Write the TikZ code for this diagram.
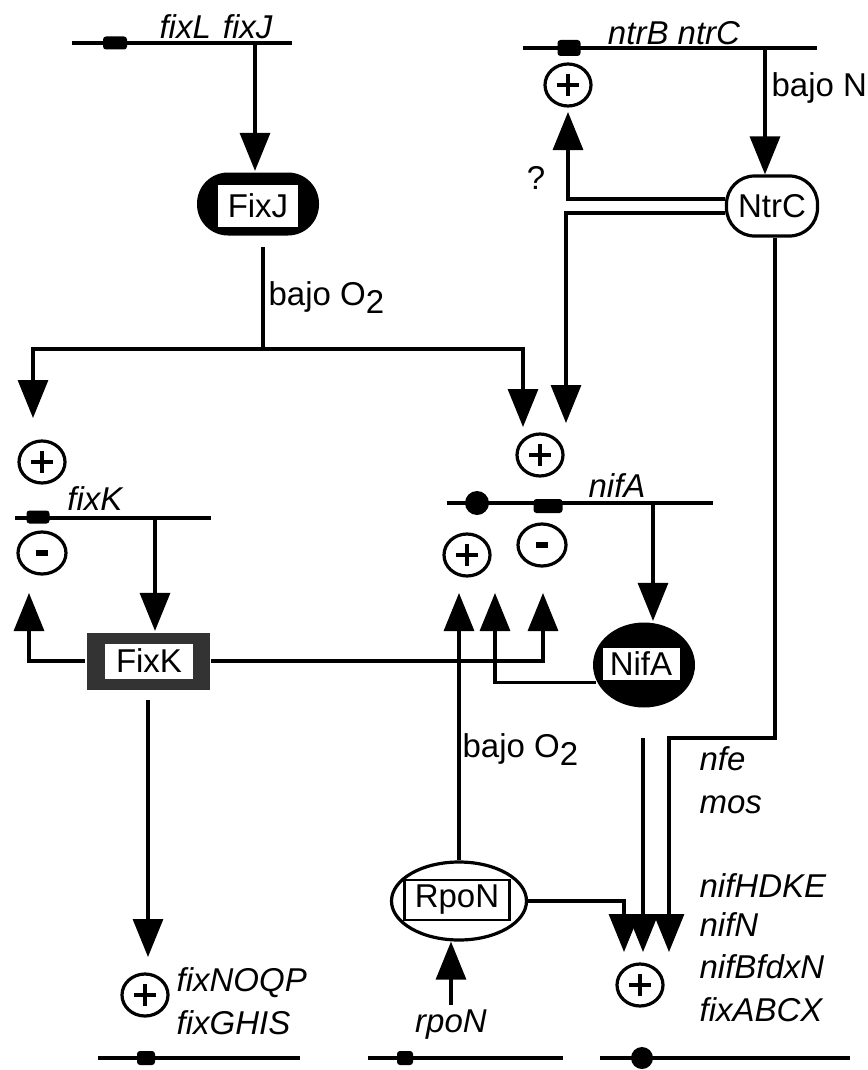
\documentclass[tikz,border=0pt]{standalone}
\usepackage{fontspec}
\setmainfont{Liberation Sans}
\usetikzlibrary{arrows.meta,shapes.geometric,calc}
\begin{document}
\begin{tikzpicture}[x=1pt,y=-1pt,line width=3.2pt,
  arr/.style={-{Triangle[length=38pt,width=30pt]}},
  txt/.style={font=\fontsize{33}{40}\selectfont, inner sep=0pt},
  gtxt/.style={font=\fontsize{33}{40}\selectfont\itshape, inner sep=0pt},
  prom/.style={fill=black, rounded corners=3pt, inner sep=0pt, minimum width=24pt, minimum height=13pt},
  blob/.style={circle, fill=black, inner sep=0pt, minimum size=24pt},
  pl/.style={ellipse, draw, inner sep=0pt, minimum width=46pt, minimum height=42pt,
    path picture={
      \draw[line width=3.8pt] ([xshift=-11pt]path picture bounding box.center) -- ([xshift=11pt]path picture bounding box.center);
      \draw[line width=3.8pt] ([yshift=-11pt]path picture bounding box.center) -- ([yshift=11pt]path picture bounding box.center);}},
  mi/.style={ellipse, draw, inner sep=0pt, minimum width=48pt, minimum height=42pt,
    path picture={
      \fill ([shift={(-6pt,-3pt)}]path picture bounding box.center) rectangle ([shift={(6pt,3pt)}]path picture bounding box.center);}},
  whitebox/.style={txt, fill=white}
]
\useasboundingbox (0,0) rectangle (867,1070);

% ---------- fixL fixJ ----------
\coordinate (gA1) at (72,43); \coordinate (gA2) at (292,43);
\draw (gA1) -- (gA2);
\node[prom] (pA) at (115,43) {};
\node[gtxt, anchor=base] (tA) at (216,39) {fixL\hspace{12pt}fixJ};
\node[fill=black, rounded corners=31pt, minimum width=122pt, minimum height=63pt, inner sep=0pt] (fixj) at (258,204) {};
\node[whitebox, minimum width=80pt, minimum height=42pt] (fixjt) at (258,206) {FixJ};
\coordinate (gAo) at (255,43);
\draw[arr] (gAo) -- (gAo |- fixj.north);

\coordinate (fjS) at (263,247); \coordinate (br) at (263,349);
\draw (fjS) -- (br);
\node[txt, anchor=base west] (bO1) at (267,305) {bajo O\raisebox{-8pt}{2}};
\coordinate (tL1) at (33,418); \coordinate (tM0) at (523,427);
\draw[arr] (br) -| (tL1);
\draw[arr] (br) -| (tM0);

% ---------- ntrB ntrC ----------
\coordinate (gB1) at (523,48); \coordinate (gB2) at (817,48);
\draw (gB1) -- (gB2);
\node[prom, minimum width=23pt, minimum height=16pt] (pB) at (569,48) {};
\node[gtxt, anchor=base] (tB) at (674,45) {ntrB ntrC};
\node[txt, draw, rounded corners=28pt, minimum width=91pt, minimum height=60pt] (ntrc) at (772,206) {NtrC};
\coordinate (gBo) at (765,48);
\draw[arr] (gBo) -- (gBo |- ntrc.north);
\node[txt, anchor=base west] (bN) at (770,97) {bajo N};
\node[pl] (pN) at (568,85) {};
\coordinate (tN1) at (568,112); \coordinate (tN2) at (566,423);
\draw[arr] ([yshift=7pt]ntrc.west) -| (tN1);
\draw[arr] ([yshift=-7pt]ntrc.west) -| (tN2);
\node[txt] (q) at (536,178) {?};
\coordinate (nC1) at (775,738); \coordinate (nC2) at (669,738); \coordinate (tR3) at (669,952);
\draw[arr] (nC1 |- ntrc.south) -- (nC1) -- (nC2) -- (tR3);

% ---------- nifA ----------
\coordinate (gC1) at (447,503); \coordinate (gC2) at (713,503);
\draw (gC1) -- (gC2);
\node[blob] (dA) at (477,503) {};
\node[prom, minimum width=29pt, minimum height=14pt] (pC) at (548,506) {};
\node[gtxt, anchor=base] (tC) at (617,497) {nifA};
\node[pl] (pC1) at (540,455) {};
\node[pl] (pC2) at (467,555) {};
\node[mi] (mC) at (542,545) {};
\node[ellipse, fill=black, minimum width=102pt, minimum height=85pt, inner sep=0pt] (nifa) at (644,665) {};
\node[whitebox, minimum width=77pt, minimum height=32pt] (nifat) at (641,664) {NifA};
\coordinate (gCo) at (653,503);
\draw[arr] (gCo) -- (gCo |- nifa.north);

% ---------- FixK ----------
\node[fill=black!80, minimum width=123pt, minimum height=57pt, inner sep=0pt] (fixk) at (148,661) {};
\node[whitebox, minimum width=88pt, minimum height=35pt] (fixkt) at (149,661) {FixK};

% ---------- RpoN ----------
\node[ellipse, draw, minimum width=135pt, minimum height=78pt, inner sep=0pt] (rpon) at (459,901) {};
\node[txt, draw, line width=2.2pt, minimum width=105pt, minimum height=40pt] (rpont) at (457,900) {RpoN};

% up arrows to nifA promoter
\coordinate (tM1) at (459,593); \coordinate (tM2) at (495,593); \coordinate (tM3) at (543,593);
\draw[arr] (rpon.north) -- (tM1);
\draw[arr] (nifa.200) -| (tM2);
\draw[arr] (fixk.east) -| (tM3);
\node[txt, anchor=base west] (bO2) at (461,757) {bajo O\raisebox{-8pt}{2}};

% ---------- right bottom ----------
\coordinate (tR1) at (624,952);
\draw[arr] (rpon.east) -| (tR1);
\coordinate (nfS) at (643,738); \coordinate (tR2) at (643,952);
\draw[arr] (nfS) -- (tR2);
\node[pl] (pR) at (640,985) {};
\coordinate (gR1) at (600,1058); \coordinate (gR2) at (850,1058);
\draw (gR1) -- (gR2);
\node[blob, minimum size=22pt] (dR) at (642,1058) {};
\node[gtxt, anchor=base west] (t1) at (698,770) {nfe};
\node[gtxt, anchor=base west] (t2) at (698,813) {mos};
\node[gtxt, anchor=base west] (t3) at (698,897) {nifHDKE};
\node[gtxt, anchor=base west] (t4) at (698,936) {nifN};
\node[gtxt, anchor=base west] (t5) at (698,978) {nifBfdxN};
\node[gtxt, anchor=base west] (t6) at (698,1021) {fixABCX};

% ---------- rpoN gene ----------
\coordinate (rpB) at (451,1005);
\draw[arr] (rpB) -- (rpB |- rpon.south);
\node[gtxt, anchor=base] (tD) at (451,1032) {rpoN};
\coordinate (gD1) at (368,1058); \coordinate (gD2) at (563,1058);
\draw (gD1) -- (gD2);
\node[prom, minimum width=16pt, minimum height=14pt] (pD) at (405,1058) {};

% ---------- fixK gene ----------
\coordinate (gE1) at (15,518); \coordinate (gE2) at (211,518);
\draw (gE1) -- (gE2);
\node[prom, minimum width=23pt, minimum height=13pt] (pE) at (38,517) {};
\node[gtxt, anchor=base] (tE) at (95,510) {fixK};
\node[pl] (pE1) at (42,462) {};
\node[mi] (mE) at (42,553) {};
\coordinate (gEo) at (155,518);
\draw[arr] (gEo) -- (gEo |- fixk.north);
\coordinate (tL2) at (29,593);
\draw[arr] (fixk.west) -| (tL2);
\coordinate (fkS) at (148,700); \coordinate (tL3) at (148,957);
\draw[arr] (fkS) -- (tL3);
\node[pl] (pF) at (145,995) {};
\node[gtxt, anchor=base west] (t7) at (175,991) {fixNOQP};
\node[gtxt, anchor=base west] (t8) at (175,1034) {fixGHIS};
\coordinate (gF1) at (98,1058); \coordinate (gF2) at (300,1058);
\draw (gF1) -- (gF2);
\node[prom, minimum width=18pt, minimum height=14pt] (pF2) at (146,1058) {};
\end{tikzpicture}
\end{document}
